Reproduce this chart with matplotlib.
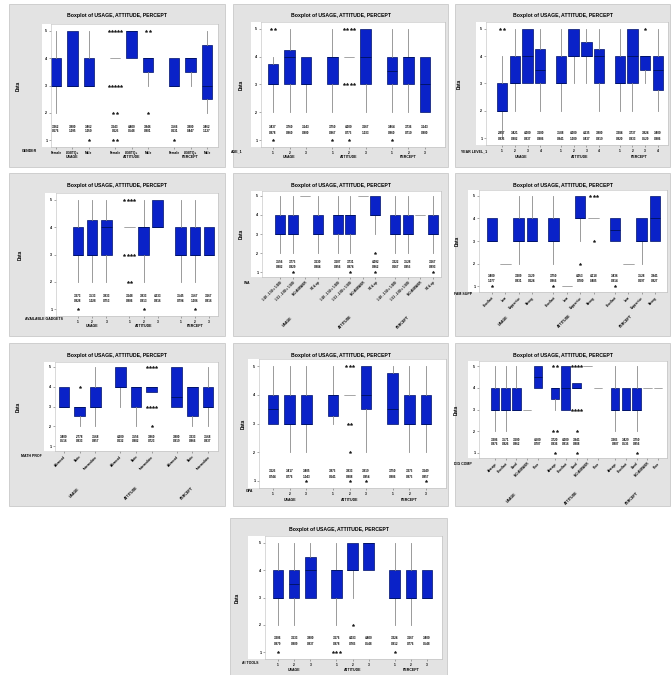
import numpy as np
import matplotlib
matplotlib.use("Agg")
import matplotlib.pyplot as plt
from matplotlib.patches import Rectangle

plt.rcParams['font.family'] = ['Liberation Sans', 'DejaVu Sans']
plt.rcParams['font.weight'] = 'bold'

W, H = 672, 675
TITLE = "Boxplot of USAGE, ATTITUDE, PERCEPT"
VARS = ["USAGE", "ATTITUDE", "PERCEPT"]

GREY = "#e3e3e3"
BLUE = "#0a22c8"
EDGE = "#00136b"
WHISK = "#8a8a8a"

# box stats per box: (whisker low, Q1, median, Q3, whisker high), order USAGE.., ATTITUDE.., PERCEPT..
GENDER_GROUPS = ["Female", "LGBTQ+", "Male"]
GENDER_BOX = [(2, 3, 3, 4, 5), (3, 3, 3, 5, 5), (3, 3, 3, 4, 5),
              (4, 4, 4, 4, 4), (4, 4, 5, 5, 5), (3, 3.5, 4, 4, 4),
              (3, 3, 3, 4, 4), (3, 3.5, 4, 4, 4), (2, 2.5, 3, 4.5, 5)]
GENDER_OUT = [[], [], [1], [5, 5, 5, 5, 5, 3, 3, 3, 3, 3, 2, 2, 1, 1], [], [5, 5, 2], [1], [], []]
GENDER_MEAN = [3.362, 3.800, 3.462, 3.643, 4.400, 3.846, 3.566, 3.800, 3.462]
GENDER_SD = [0.676, 1.095, 1.050, 0.625, 0.548, 0.801, 0.631, 0.447, 1.127]

AGE_GROUPS = ["1", "2", "3"]
AGE_BOX = [(2, 3, 3, 3.75, 4), (2, 3, 4, 4.25, 5), (2, 3, 3, 4, 4),
           (2, 3, 4, 4, 5), (4, 4, 4, 4, 4), (2, 3, 4, 5, 5),
           (2, 3, 3.5, 4, 5), (2, 3, 4, 4, 5), (2, 2, 3, 4, 4)]
AGE_OUT = [[5, 5, 1], [], [], [1], [5, 5, 5, 5, 3, 3, 3, 3, 1], [], [1], [], []]
AGE_MEAN = [3.437, 3.760, 3.143, 3.750, 4.000, 3.667, 3.464, 3.736, 3.143]
AGE_SD = [0.878, 0.860, 0.900, 0.967, 0.775, 1.033, 0.860, 0.710, 0.900]

YEAR_GROUPS = ["1", "2", "3", "4"]
YEAR_BOX = [(1, 2, 2, 3, 4), (2, 3, 3, 4, 5), (3, 3, 4, 5, 5), (2, 3, 3.5, 4.25, 5),
            (2, 3, 3, 4, 5), (3, 4, 4, 5, 5), (3, 4, 4, 4.5, 5), (2, 3, 4, 4.25, 5),
            (2, 3, 3, 4, 5), (2, 3, 4, 5, 5), (3, 3.5, 4, 4, 4), (2, 2.75, 3.5, 4, 5)]
YEAR_OUT = [[5, 5], [], [], [], [], [], [], [], [], [], [5], []]
YEAR_MEAN = [2.857, 3.421, 4.000, 3.600, 3.588, 4.000, 4.235, 3.800, 3.304, 3.737, 3.824, 3.400]
YEAR_SD = [0.835, 0.902, 0.837, 0.986, 0.841, 1.000, 0.437, 0.919, 0.820, 0.933, 0.529, 0.986]

GADGET_GROUPS = ["1", "2", "3"]
GADGET_BOX = [(2, 3, 3, 4, 5), (2, 3, 3, 4.25, 5), (2, 3, 4, 4.25, 5),
              (4, 4, 4, 4, 4), (2, 3, 4, 4, 5), (4, 4, 4, 5, 5),
              (2, 3, 3, 4, 5), (2, 3, 3, 4, 5), (3, 3, 3, 4, 4)]
GADGET_OUT = [[1], [], [], [5, 5, 5, 5, 3, 3, 3, 3, 2, 2], [1], [], [], [1], []]
GADGET_MEAN = [3.273, 3.533, 3.833, 3.648, 3.833, 4.333, 3.545, 3.567, 3.667]
GADGET_SD = [0.828, 1.028, 0.753, 0.806, 0.913, 0.816, 0.794, 1.006, 0.816]

WA_GROUPS = ["1.00 - 1.50 = 1.000", "1.51 - 2.00 = 1.500", "NO ANSWER", "90 & up"]
WA_BOX = [(2, 3, 3, 4, 5), (2, 3, 3, 4, 5), (5, 5, 5, 5, 5), (2, 3, 3, 4, 5),
          (2, 3, 4, 4, 5), (2, 3, 4, 4, 5), (5, 5, 5, 5, 5), (3, 4, 4, 5, 5),
          (2, 3, 3, 4, 5), (2, 3, 3, 4, 5), (4, 4, 4, 4, 4), (2, 3, 3, 4, 5)]
WA_OUT = [[], [1], [], [], [], [1], [], [2, 1], [], [], [], [1]]
WA_MEAN = [3.556, 3.775, None, 3.630, 3.607, 3.731, None, 4.092, 3.222, 3.528, None, 3.667]
WA_SD = [0.882, 0.929, None, 0.884, 0.956, 0.874, None, 0.862, 0.667, 0.955, None, 0.893]

FAM_GROUPS = ["Excellent", "Low", "Supportive", "Strong"]
FAM_BOX = [(3, 3, 3, 4, 4), (2, 2, 2, 2, 2), (2, 3, 3, 4, 5), (3, 3, 3, 4, 5),
           (2, 3, 3, 4, 5), (1, 1, 1, 1, 1), (3, 4, 4, 5, 5), (4, 4, 4, 4, 4),
           (3, 3, 3.5, 4, 4), (2, 2, 2, 2, 2), (2, 3, 3, 4, 4), (3, 3, 4, 5, 5)]
FAM_OUT = [[1], [], [], [], [1], [], [2], [5, 5, 5, 3], [1], [], [], []]
FAM_MEAN = [3.400, None, 3.389, 3.529, 3.750, None, 4.053, 4.118, 3.436, None, 3.528, 3.941]
FAM_SD = [1.077, None, 0.831, 0.624, 0.866, None, 0.780, 0.485, 0.914, None, 0.697, 0.827]

MATH_GROUPS = ["Advanced", "Basic", "Intermediate"]
MATH_BOX = [(3, 3, 3, 4, 4), (2, 2.5, 3, 3, 3), (2, 3, 3, 4, 5),
            (3, 4, 4, 5, 5), (2, 3, 4, 4, 4), (3.75, 3.75, 4, 4, 4),
            (3, 3, 3.5, 5, 5), (2, 2.5, 4, 4, 4), (2, 3, 3, 4, 5)]
MATH_OUT = [[], [4], [], [], [], [5, 5, 5, 5, 3, 3, 3, 3, 2], [], [], []]
MATH_MEAN = [3.400, 2.778, 3.568, 4.200, 3.556, 3.860, 3.800, 3.333, 3.568]
MATH_SD = [0.516, 0.833, 0.857, 0.632, 0.882, 0.723, 0.919, 0.866, 0.837]

GPA_GROUPS = ["1", "2", "3"]
GPA_BOX = [(3, 3, 3.5, 4, 5), (2, 3, 3, 4, 5), (2, 3, 3, 4, 5),
           (3, 3.25, 4, 4, 5), (4, 4, 4, 4, 4), (2, 3.5, 4, 5, 5),
           (3, 3, 3.5, 4.75, 5), (2, 3, 3, 4, 5), (2, 3, 3, 4, 5)]
GPA_OUT = [[], [], [1], [], [5, 5, 5, 3, 3, 2, 1], [1], [], [], [1]]
GPA_MEAN = [3.625, 3.417, 3.405, 3.875, 3.833, 3.919, 3.750, 3.375, 3.649]
GPA_SD = [0.744, 0.776, 1.043, 0.641, 0.888, 0.954, 0.886, 0.875, 0.857]

DIG_GROUPS = ["Average", "Excellent", "Good", "NO ANSWER", "Poor"]
DIG_BOX = [(2, 3, 3, 4, 5), (2, 3, 3, 4, 5), (3, 3, 3, 4, 5), (3, 3, 3, 3, 3), (4, 4, 4.5, 5, 5),
           (3, 3.5, 4, 4, 4), (3, 3, 4, 5, 5), (4, 4, 4, 4.25, 4.25), (5, 5, 5, 5, 5), (4, 4, 4, 4, 4),
           (2, 3, 3, 4, 5), (3, 3, 3, 4, 4), (2, 3, 3, 4, 5), (4, 4, 4, 4, 4), (4, 4, 4, 4, 4)]
DIG_OUT = [[], [], [], [], [],
           [5, 5, 2, 2, 1], [], [5, 5, 5, 5, 3, 3, 3, 3, 2, 1], [], [],
           [], [], [1], [], []]
DIG_MEAN = [3.206, 3.571, 3.600, None, 4.500, 3.720, 4.000, 3.941, None, None, 3.265, 3.429, 3.750, None, None]
DIG_SD = [0.976, 0.926, 0.862, None, 0.707, 0.936, 0.816, 0.888, None, None, 0.807, 0.535, 0.856, None, None]

AI_GROUPS = ["1", "2", "3"]
AI_BOX = [(2, 3, 3, 4, 5), (2, 3, 3.5, 4, 5), (3, 3, 4, 4.5, 5),
          (2, 3, 4, 4, 5), (3, 4, 4, 5, 5), (4, 4, 5, 5, 5),
          (2, 3, 3, 4, 5), (2, 3, 3, 4, 5), (3, 3, 3, 4, 4)]
AI_OUT = [[1], [], [], [1, 1, 1], [2], [], [1], [], []]
AI_MEAN = [3.206, 3.633, 3.800, 3.676, 4.033, 4.400, 3.324, 3.667, 3.400]
AI_SD = [0.879, 0.809, 0.837, 0.978, 0.765, 0.548, 0.912, 0.776, 0.548]

# layout in pixels of the 672x675 canvas
PANELS = [
    dict(name="GENDER", groups=GENDER_GROUPS, box=GENDER_BOX, out=GENDER_OUT, mean=GENDER_MEAN, sd=GENDER_SD,
         grey=(9, 4, 225, 167), white=(42, 24, 218, 147), dx0=51, centers=(56, 207),
         name_xy=(37, 151), ylab_x=18, text_y=(1.5, 1.32), rot=False, var_dy=10, var_dx=0),
    dict(name="AGE_1", groups=AGE_GROUPS, box=AGE_BOX, out=AGE_OUT, mean=AGE_MEAN, sd=AGE_SD,
         grey=(233, 4, 448, 167), white=(251, 22, 445, 147), dx0=261, centers=(273, 425),
         name_xy=(243, 151), ylab_x=241, text_y=(1.47, 1.27), rot=False, var_dy=10, var_dx=0),
    dict(name="YEAR LEVEL_1", groups=YEAR_GROUPS, box=YEAR_BOX, out=YEAR_OUT, mean=YEAR_MEAN, sd=YEAR_SD,
         grey=(455, 4, 670, 167), white=(476, 22, 668, 145), dx0=486, centers=(502, 658),
         name_xy=(487, 151), ylab_x=459, text_y=(1.18, 0.98), rot=False, var_dy=12, var_dx=0),
    dict(name="AVAILABLE GADGETS", groups=GADGET_GROUPS, box=GADGET_BOX, out=GADGET_OUT, mean=GADGET_MEAN,
         sd=GADGET_SD, grey=(9, 173, 225, 336), white=(45, 193, 218, 316), dx0=56, centers=(78, 209),
         name_xy=(63, 319), ylab_x=20, text_y=(1.5, 1.3), rot=False, var_dy=10, var_dx=0),
    dict(name="WA", groups=WA_GROUPS, box=WA_BOX, out=WA_OUT, mean=WA_MEAN, sd=WA_SD,
         grey=(233, 173, 448, 336), white=(251, 191, 441, 277), dx0=262, centers=(280, 433),
         name_xy=(250, 283), ylab_x=241, text_y=(1.53, 1.27), rot=True, var_dy=45, var_dx=-11),
    dict(name="FAM SUPP", groups=FAM_GROUPS, box=FAM_BOX, out=FAM_OUT, mean=FAM_MEAN, sd=FAM_SD,
         grey=(455, 173, 670, 336), white=(468, 190, 667, 292), dx0=479, centers=(492, 655),
         name_xy=(472, 294), ylab_x=457, text_y=(1.44, 1.22), rot=True, var_dy=29, var_dx=-9),
    dict(name="MATH PROF", groups=MATH_GROUPS, box=MATH_BOX, out=MATH_OUT, mean=MATH_MEAN, sd=MATH_SD,
         grey=(9, 343, 225, 506), white=(44, 362, 218, 451), dx0=55, centers=(64, 208),
         name_xy=(42, 456), ylab_x=18, text_y=(1.46, 1.25), rot=True, var_dy=42, var_dx=-5),
    dict(name="GPA", groups=GPA_GROUPS, box=GPA_BOX, out=GPA_OUT, mean=GPA_MEAN, sd=GPA_SD,
         grey=(233, 343, 448, 506), white=(248, 359, 446, 488), dx0=259, centers=(273, 426),
         name_xy=(253, 491), ylab_x=243, text_y=(1.33, 1.15), rot=False, var_dy=12, var_dx=0),
    dict(name="DIG COMP", groups=DIG_GROUPS, box=DIG_BOX, out=DIG_OUT, mean=DIG_MEAN, sd=DIG_SD,
         grey=(455, 343, 670, 506), white=(468, 361, 667, 458), dx0=479, centers=(495, 658),
         name_xy=(472, 464), ylab_x=456, text_y=(1.6, 1.4), rot=True, var_dy=40, var_dx=-5),
    dict(name="AI TOOLS", groups=AI_GROUPS, box=AI_BOX, out=AI_OUT, mean=AI_MEAN, sd=AI_SD,
         grey=(230, 518, 447, 675), white=(248, 536, 442, 659), dx0=265, centers=(278, 427),
         name_xy=(258, 663), ylab_x=237, text_y=(1.51, 1.29), rot=False, var_dy=11, var_dx=0),
]

PT = 0.72  # points per pixel at dpi 100

fig = plt.figure(figsize=(W / 100, H / 100), dpi=100)
fig.patch.set_facecolor("white")


def draw_panel(p):
    gx0, gy0, gx1, gy1 = p["grey"]
    fig.add_artist(Rectangle((gx0 / W, 1 - gy1 / H), (gx1 - gx0) / W, (gy1 - gy0) / H,
                             transform=fig.transFigure, facecolor=GREY, edgecolor="#c9c9c9",
                             lw=0.6, zorder=-2))
    wx0, wy0, wx1, wy1 = p["white"]
    fig.add_artist(Rectangle((wx0 / W, 1 - wy1 / H), (wx1 - wx0) / W, (wy1 - wy0) / H,
                             transform=fig.transFigure, facecolor="white", edgecolor="none", zorder=-1))
    fig.text((gx0 + gx1) / 2 / W, 1 - (gy0 + 12) / H, TITLE, ha="center", va="center", fontsize=3.7)
    fig.text(p["ylab_x"] / W, 1 - (wy0 + wy1) / 2 / H, "Data", rotation=90,
             ha="center", va="center", fontsize=3.3)
    fig.text(p["name_xy"][0] / W, 1 - p["name_xy"][1] / H, p["name"], ha="right", va="center", fontsize=2.5)

    dx0 = p["dx0"]
    ax = fig.add_axes([dx0 / W, 1 - wy1 / H, (wx1 - dx0) / W, (wy1 - wy0) / H])
    ax.set_facecolor("white")
    n = len(p["groups"])
    pos = np.array([v * (n + 0.6) + i for v in range(3) for i in range(n)], dtype=float)
    c0, c1 = p["centers"]
    scale = (c1 - c0) / (pos[-1] - pos[0])
    ax.set_xlim(pos[0] - (c0 - dx0) / scale, pos[-1] + (wx1 - c1) / scale)
    ax.set_ylim(0.75, 5.25)

    width = min(10.5 / scale, 0.8)
    stats = [dict(whislo=b[0], q1=b[1], med=b[2], q3=b[3], whishi=b[4], fliers=[]) for b in p["box"]]
    bp = ax.bxp(stats, positions=pos, widths=width, patch_artist=True, showfliers=False,
                showcaps=False, manage_ticks=False,
                boxprops=dict(facecolor=BLUE, edgecolor=EDGE, linewidth=0.5),
                whiskerprops=dict(color=WHISK, linewidth=0.6),
                medianprops=dict(color=EDGE, linewidth=0.7))
    for b, patch, med in zip(p["box"], bp["boxes"], bp["medians"]):
        if b[1] == b[3]:
            patch.set_facecolor("none")
            patch.set_edgecolor("#a8a8a8")
            med.set_color("#a8a8a8")

    step = 3.2 / scale
    for x, vals in zip(pos, p["out"]):
        if not vals:
            continue
        u, c = np.unique(vals, return_counts=True)
        for v, k in zip(u, c):
            xs = x + (np.arange(k) - (k - 1) / 2) * step
            ax.plot(xs, [v] * k, ls="none", marker="*", ms=2.1, mew=0.3, color="#1a1a1a")

    ty0, ty1 = p["text_y"]
    for x, m, s in zip(pos, p["mean"], p["sd"]):
        if m is None:
            continue
        ax.text(x, ty0, f"{m:.3f}", ha="center", va="center", fontsize=2.2)
        ax.text(x, ty1, f"{s:.3f}", ha="center", va="center", fontsize=2.2)

    ax.set_yticks([1, 2, 3, 4, 5])
    ax.set_xticks(pos)
    if p["rot"]:
        ax.set_xticklabels(p["groups"] * 3, fontsize=2.2, rotation=45, ha="right", rotation_mode="anchor")
    else:
        ax.set_xticklabels(p["groups"] * 3, fontsize=2.3)
    ax.tick_params(axis="both", length=1.5, width=0.4, color="#666666", pad=1.2)
    ax.tick_params(axis="y", labelsize=2.5)
    for sp in ax.spines.values():
        sp.set_color("#bdbdbd")
        sp.set_linewidth(0.4)

    for v in range(3):
        center = (pos[v * n] + pos[v * n + n - 1]) / 2
        ax.annotate(VARS[v], xy=(center, 0), xycoords=("data", "axes fraction"),
                    xytext=(p["var_dx"] * PT, -p["var_dy"] * PT), textcoords="offset points",
                    ha="center", va="center", fontsize=2.5,
                    rotation=45 if p["rot"] else 0)


for panel in PANELS:
    draw_panel(panel)

fig.savefig("out.png", dpi=100)
